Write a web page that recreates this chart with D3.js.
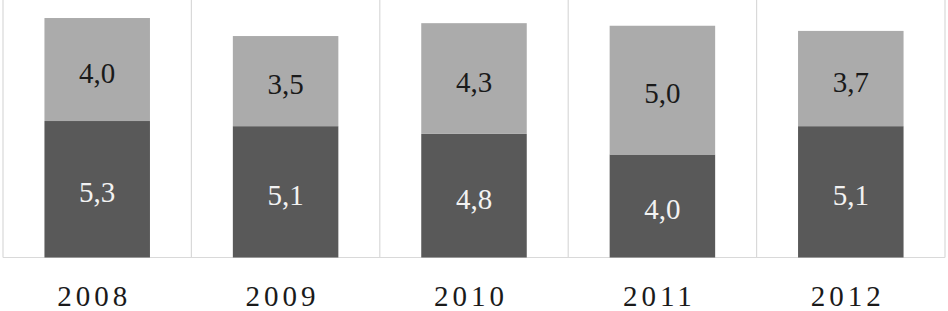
<!DOCTYPE html>
<html><head><meta charset="utf-8">
<script src="https://cdn.jsdelivr.net/npm/d3@7"></script>
<style>html,body{margin:0;padding:0;background:#fff;}</style>
</head><body>
<svg id="c" width="948" height="311"></svg>
<script>
const years = ["2008","2009","2010","2011","2012"];
const bottomValues = [5.3, 5.1, 4.8, 4.0, 5.1];
const topValues = [4.0, 3.5, 4.3, 5.0, 3.7];
const fmt = v => v.toFixed(1).replace(".", ",");

const svg = d3.select("#c");
const left = 3, right = 945, baseY = 257.5;
const x = d3.scaleBand().domain(years).range([left, right]).paddingInner(0.44).paddingOuter(0.22);
const y = d3.scaleLinear().domain([0, 10]).range([baseY, 0]);

const bounds = d3.range(years.length + 1).map(i => left + i * x.step());
svg.append("g").selectAll("line").data(bounds).join("line")
  .attr("x1", d => d).attr("x2", d => d).attr("y1", 0).attr("y2", baseY)
  .attr("stroke", "#d9d9d9").attr("stroke-width", 1.2);
svg.append("line").attr("x1", left).attr("x2", right).attr("y1", baseY).attr("y2", baseY)
  .attr("stroke", "#d9d9d9").attr("stroke-width", 1.2);

const data = years.map((yr, i) => ({yr, b: bottomValues[i], t: topValues[i]}));
const g = svg.append("g");
g.selectAll("rect.b").data(data).join("rect").attr("class","b")
  .attr("x", d => x(d.yr)).attr("width", x.bandwidth())
  .attr("y", d => y(d.b)).attr("height", d => y(0) - y(d.b)).attr("fill", "#595959");
g.selectAll("rect.t").data(data).join("rect").attr("class","t")
  .attr("x", d => x(d.yr)).attr("width", x.bandwidth())
  .attr("y", d => y(d.b + d.t)).attr("height", d => y(d.b) - y(d.b + d.t)).attr("fill", "#ababab");

const font = "'Liberation Serif', serif";
const fs = 29;
g.selectAll("text.b").data(data).join("text").attr("class","b")
  .attr("x", d => x(d.yr) + x.bandwidth()/2)
  .attr("y", d => (y(0) + y(d.b))/2 + 13)
  .attr("text-anchor","middle").attr("font-family", font).attr("font-size", fs)
  .attr("fill", "#f2f2f2").text(d => fmt(d.b));
g.selectAll("text.t").data(data).join("text").attr("class","t")
  .attr("x", d => x(d.yr) + x.bandwidth()/2)
  .attr("y", d => (y(d.b) + y(d.b + d.t))/2 + 13)
  .attr("text-anchor","middle").attr("font-family", font).attr("font-size", fs)
  .attr("fill", "#1a1a1a").text(d => fmt(d.t));

svg.append("g").selectAll("text").data(years).join("text")
  .attr("x", d => x(d) + x.bandwidth()/2 - 3)
  .attr("y", 306)
  .attr("text-anchor","middle").attr("font-family", font).attr("font-size", fs)
  .attr("letter-spacing", "4px").attr("fill", "#1a1a1a").text(d => d);
</script>
</body></html>
